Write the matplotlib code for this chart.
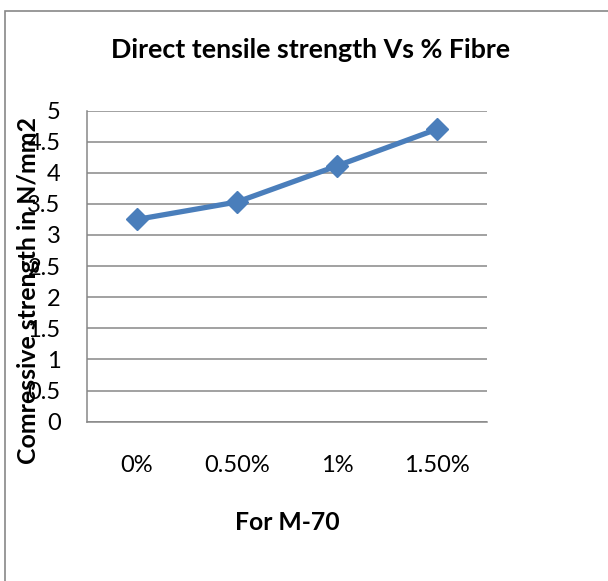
import matplotlib
matplotlib.use('Agg')
import matplotlib.pyplot as plt
from matplotlib.patches import Rectangle

categories = ['0%', '0.50%', '1%', '1.50%']
strength = [3.25, 3.53, 4.11, 4.70]
yticks = [0, 0.5, 1, 1.5, 2, 2.5, 3, 3.5, 4, 4.5, 5]
ytick_labels = ['0', '0.5', '1', '1.5', '2', '2.5', '3', '3.5', '4', '4.5', '5']

plt.rcParams['font.family'] = ['Lato', 'DejaVu Sans']
W, H = 608, 581
fig = plt.figure(figsize=(W / 100, H / 100), dpi=100)
fig.patch.set_facecolor('white')

# outer chart border (only top/left edges are visible in the crop)
fig.patches.append(Rectangle((5 / W, -0.1), 1.2, (H - 11) / H + 0.1,
                             transform=fig.transFigure, fill=False,
                             edgecolor='#878787', linewidth=1.2))

ax = fig.add_axes([87 / W, (H - 421.7) / H, 400 / W, (421.7 - 110.5) / H])
x = list(range(len(categories)))
ax.plot(x, strength, '-D', color='#4A7EBB', linewidth=3.8,
        markersize=11, markeredgecolor='#4A7EBB', zorder=3)
ax.set_xlim(-0.5, 3.5)
ax.set_ylim(0, 5)
ax.set_yticks(yticks)
ax.set_yticklabels(ytick_labels)
ax.set_xticks(x)
ax.set_xticklabels(categories)
ax.grid(axis='y', color='#878787', linewidth=1.1)
ax.set_axisbelow(True)
for s in ['top', 'right']:
    ax.spines[s].set_visible(False)
for s in ['left', 'bottom']:
    ax.spines[s].set_color('#878787')
    ax.spines[s].set_linewidth(1.1)
ax.tick_params(axis='both', length=0, labelsize=17, colors='black')
ax.tick_params(axis='x', pad=24)
ax.tick_params(axis='y', pad=19)

fig.text(311 / W, (H - 50) / H, 'Direct tensile strength Vs % Fibre',
         ha='center', va='center', fontsize=19.3, fontweight='bold')
fig.text(287 / W, (H - 522) / H, 'For M-70', ha='center', va='center',
         fontsize=17.8, fontweight='bold')
fig.text(29 / W, (H - 291) / H, 'Comressive strength in N/mm2', ha='center',
         va='center', rotation=90, fontsize=17.9, fontweight='bold')

fig.savefig('out.png', dpi=100)
